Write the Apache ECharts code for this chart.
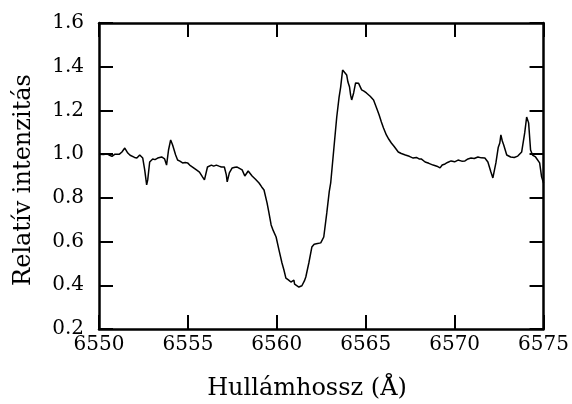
<!DOCTYPE html>
<html>
<head>
<meta charset="utf-8">
<script src="https://cdn.jsdelivr.net/npm/echarts@6/dist/echarts.min.js"></script>
<style>
  html, body { margin: 0; padding: 0; background: #fff; }
  #chart { width: 572px; height: 404px; }
</style>
</head>
<body>
<div id="chart"></div>
<script>
// H-alpha profile: wavelength (Å) and relative intensity
const wavelength = [
  6550.00, 6550.06, 6550.25, 6550.45, 6550.60, 6550.73, 6550.90, 6551.01, 6551.15, 6551.29,
  6551.45, 6551.62, 6551.75, 6551.85, 6552.00, 6552.13, 6552.29, 6552.46, 6552.57, 6552.68,
  6552.74, 6552.85, 6553.02, 6553.15, 6553.30, 6553.52, 6553.69, 6553.80, 6553.91, 6554.03,
  6554.14, 6554.31, 6554.42, 6554.55, 6554.70, 6554.85, 6554.98, 6555.10, 6555.26, 6555.48,
  6555.65, 6555.82, 6555.93, 6556.10, 6556.32, 6556.45, 6556.60, 6556.75, 6556.88, 6557.05,
  6557.16, 6557.21, 6557.33, 6557.49, 6557.65, 6557.77, 6557.90, 6558.05, 6558.20, 6558.28,
  6558.39, 6558.50, 6558.61, 6558.80, 6559.00, 6559.15, 6559.28, 6559.45, 6559.55, 6559.68,
  6559.80, 6559.96, 6560.12, 6560.29, 6560.40, 6560.51, 6560.65, 6560.79, 6560.90, 6560.96,
  6561.00, 6561.07, 6561.24, 6561.41, 6561.55, 6561.63, 6561.80, 6561.97, 6562.10, 6562.19,
  6562.35, 6562.47, 6562.64, 6562.81, 6562.95, 6563.03, 6563.20, 6563.37, 6563.50, 6563.59,
  6563.70, 6563.81, 6563.93, 6564.00, 6564.09, 6564.15, 6564.21, 6564.32, 6564.43, 6564.60,
  6564.77, 6564.90, 6565.04, 6565.25, 6565.44, 6565.61, 6565.75, 6565.88, 6566.00, 6566.16,
  6566.30, 6566.44, 6566.60, 6566.83, 6567.00, 6567.23, 6567.45, 6567.67, 6567.85, 6568.00,
  6568.12, 6568.34, 6568.55, 6568.79, 6569.00, 6569.18, 6569.30, 6569.46, 6569.60, 6569.80,
  6570.00, 6570.19, 6570.40, 6570.58, 6570.75, 6570.92, 6571.10, 6571.31, 6571.50, 6571.70,
  6571.87, 6572.04, 6572.15, 6572.32, 6572.45, 6572.54, 6572.60, 6572.68, 6572.76, 6572.93,
  6573.15, 6573.35, 6573.55, 6573.77, 6573.94, 6574.05, 6574.16, 6574.27, 6574.38, 6574.55,
  6574.78, 6574.89, 6575.00
];
const intensity = [
  1.000, 1.005, 0.998, 1.001, 0.995, 0.990, 1.000, 1.005, 1.000, 1.010,
  1.028, 1.005, 0.995, 0.992, 0.985, 0.982, 0.996, 0.982, 0.928, 0.859,
  0.882, 0.964, 0.978, 0.975, 0.982, 0.987, 0.978, 0.950, 1.019, 1.065,
  1.042, 0.996, 0.973, 0.968, 0.960, 0.962, 0.960, 0.950, 0.941, 0.928,
  0.918, 0.896, 0.882, 0.941, 0.950, 0.945, 0.950, 0.945, 0.941, 0.941,
  0.905, 0.873, 0.914, 0.937, 0.940, 0.941, 0.935, 0.928, 0.900, 0.905,
  0.923, 0.918, 0.900, 0.885, 0.868, 0.850, 0.836, 0.777, 0.735, 0.676,
  0.650, 0.621, 0.562, 0.502, 0.470, 0.433, 0.425, 0.415, 0.420, 0.424,
  0.405, 0.401, 0.392, 0.398, 0.420, 0.438, 0.502, 0.575, 0.588, 0.589,
  0.592, 0.594, 0.621, 0.731, 0.830, 0.868, 1.019, 1.170, 1.260, 1.307,
  1.385, 1.394, 1.362, 1.330, 1.307, 1.270, 1.248, 1.280, 1.326, 1.324,
  1.294, 1.288, 1.280, 1.265, 1.248, 1.211, 1.180, 1.147, 1.120, 1.088,
  1.068, 1.051, 1.035, 1.010, 1.003, 0.996, 0.990, 0.982, 0.985, 0.978,
  0.978, 0.964, 0.958, 0.950, 0.945, 0.937, 0.950, 0.955, 0.962, 0.969,
  0.965, 0.973, 0.968, 0.969, 0.978, 0.982, 0.980, 0.987, 0.983, 0.982,
  0.964, 0.918, 0.891, 0.960, 1.030, 1.051, 1.088, 1.060, 1.042, 0.996,
  0.987, 0.985, 0.991, 1.010, 1.097, 1.170, 1.143, 1.019, 0.996, 0.987,
  0.960, 0.896, 0.868
];

const xTicks = { min: 6550, max: 6575, step: 5 };
const yTicks = { min: 0.2, max: 1.6, step: 0.2 };
const xTitle = 'Hullámhossz (Å)';
const yTitle = 'Relatív intenzitás';

const FONT = 'DejaVu Serif';
const points = wavelength.map((w, i) => [w, intensity[i]]);

const chart = echarts.init(document.getElementById('chart'), null, { renderer: 'canvas' });

const tickStyle = { inside: true, length: 14, lineStyle: { color: '#000', width: 2 } };
const lineStyle = { show: true, lineStyle: { color: '#000', width: 2.5 } };

chart.setOption({
  backgroundColor: '#fff',
  animation: false,
  grid: { left: 99, right: 26, top: 23, bottom: 75, containLabel: false },
  xAxis: [
    {
      type: 'value', min: xTicks.min, max: xTicks.max, interval: xTicks.step,
      position: 'bottom',
      axisLine: lineStyle, axisTick: tickStyle, splitLine: { show: false },
      axisLabel: {
        color: '#000', fontFamily: FONT, fontSize: 20, margin: 6,
        formatter: v => String(v)
      }
    },
    {
      type: 'value', min: xTicks.min, max: xTicks.max, interval: xTicks.step,
      position: 'top',
      axisLine: lineStyle, axisTick: tickStyle, splitLine: { show: false },
      axisLabel: { show: false }
    }
  ],
  yAxis: [
    {
      type: 'value', min: yTicks.min, max: yTicks.max, interval: yTicks.step,
      position: 'left',
      axisLine: lineStyle, axisTick: tickStyle, splitLine: { show: false },
      axisLabel: {
        color: '#000', fontFamily: FONT, fontSize: 20, margin: 15,
        formatter: v => v.toFixed(1)
      }
    },
    {
      type: 'value', min: yTicks.min, max: yTicks.max, interval: yTicks.step,
      position: 'right',
      axisLine: lineStyle, axisTick: tickStyle, splitLine: { show: false },
      axisLabel: { show: false }
    }
  ],
  series: [{
    type: 'line',
    data: points,
    xAxisIndex: 0,
    yAxisIndex: 0,
    showSymbol: false,
    symbol: 'none',
    lineStyle: { color: '#000', width: 1.5 },
    clip: true
  }],
  graphic: [
    {
      type: 'text',
      x: 307, y: 389,
      style: {
        text: xTitle, fill: '#000', font: '24px "' + FONT + '"',
        textAlign: 'center', textVerticalAlign: 'middle'
      }
    },
    {
      type: 'text',
      x: 24, y: 180, rotation: Math.PI / 2,
      style: {
        text: yTitle, fill: '#000', font: '24px "' + FONT + '"',
        textAlign: 'center', textVerticalAlign: 'middle'
      }
    }
  ]
});
</script>
</body>
</html>
